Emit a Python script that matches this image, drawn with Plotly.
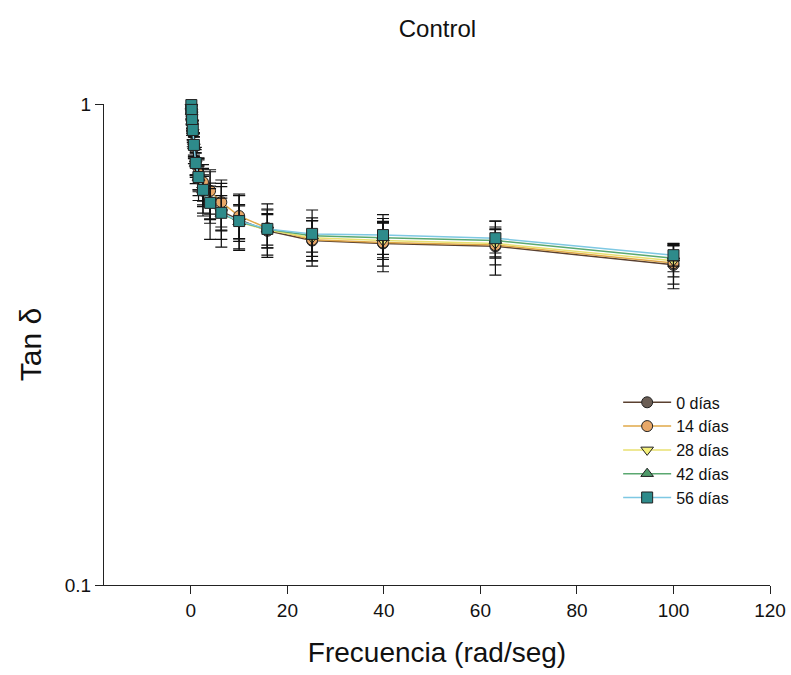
import plotly.graph_objects as go

freq = [0.1, 0.158, 0.251, 0.398, 0.631, 1.0, 1.585, 2.512, 3.981, 6.31, 10.0, 15.85, 25.12, 39.81, 63.1, 100.0]

d0 = [0.98, 0.955, 0.91, 0.87, 0.812, 0.748, 0.700, 0.660, 0.625, 0.598, 0.575, 0.545, 0.520, 0.513, 0.506, 0.463]
d14 = [0.99, 0.962, 0.92, 0.876, 0.820, 0.762, 0.718, 0.688, 0.660, 0.625, 0.585, 0.552, 0.522, 0.515, 0.509, 0.467]
d28 = [0.985, 0.960, 0.915, 0.873, 0.815, 0.750, 0.702, 0.662, 0.625, 0.595, 0.568, 0.547, 0.527, 0.520, 0.513, 0.472]
d42 = [0.99, 0.965, 0.92, 0.878, 0.818, 0.752, 0.703, 0.662, 0.622, 0.592, 0.569, 0.549, 0.532, 0.527, 0.520, 0.478]
d56 = [0.995, 0.972, 0.926, 0.883, 0.822, 0.754, 0.705, 0.663, 0.623, 0.594, 0.571, 0.550, 0.537, 0.534, 0.526, 0.485]

e0 = [0.05, 0.05, 0.05, 0.055, 0.06, 0.065, 0.07, 0.075, 0.06, 0.075, 0.075, 0.06, 0.06, 0.065, 0.065, 0.05]
e14 = [0.04, 0.04, 0.045, 0.045, 0.05, 0.05, 0.055, 0.06, 0.07, 0.07, 0.06, 0.05, 0.05, 0.055, 0.046, 0.045]
e28 = [0.03, 0.03, 0.035, 0.035, 0.04, 0.04, 0.045, 0.05, 0.05, 0.05, 0.05, 0.045, 0.045, 0.045, 0.035, 0.035]
e42 = [0.03, 0.03, 0.03, 0.035, 0.035, 0.04, 0.04, 0.045, 0.045, 0.045, 0.045, 0.04, 0.04, 0.04, 0.03, 0.03]
e56 = [0.03, 0.03, 0.035, 0.04, 0.045, 0.05, 0.06, 0.07, 0.1, 0.09, 0.075, 0.07, 0.065, 0.055, 0.045, 0.025]

names = ["0 días", "14 días", "28 días", "42 días", "56 días"]
series = [d0, d14, d28, d42, d56]
errors = [e0, e14, e28, e42, e56]
symbols = ["circle", "circle", "triangle-down", "triangle-up", "square"]
fills = ["#6b5e55", "#e8a868", "#f5f07a", "#4e9a6a", "#2e8b8b"]
lines = ["#5a4030", "#e0a848", "#e8e070", "#5aa870", "#7ec8e3"]

fig = go.Figure()
for n, y, e, s, f, lc in zip(names, series, errors, symbols, fills, lines):
    fig.add_trace(go.Scatter(
        x=freq, y=y, name=n, mode="lines+markers",
        line=dict(color=lc, width=1.5),
        marker=dict(symbol=s, size=11, color=f, line=dict(color="#222", width=1)),
        error_y=dict(type="data", array=e, visible=True, color="#111", thickness=1.2, width=6),
        cliponaxis=False,
    ))

font = "Arial, Liberation Sans, sans-serif"
fig.update_layout(
    width=791, height=675,
    margin=dict(l=104, r=21, t=104, b=90),
    paper_bgcolor="white", plot_bgcolor="white",
    font=dict(family=font, color="#111"),
    title=dict(text="Control", x=0.553, xanchor="center", y=0.958, yanchor="middle",
               font=dict(size=24, family=font)),
    xaxis=dict(range=[-18, 120], tickvals=[0, 20, 40, 60, 80, 100, 120], automargin=False,
               showgrid=False, zeroline=False, showline=True, linecolor="#222", linewidth=1.2,
               ticks="outside", ticklen=8, tickcolor="#222", tickfont=dict(size=19),
               title=dict(text="Frecuencia (rad/seg)", font=dict(size=28), standoff=22)),
    yaxis=dict(type="log", range=[-1, 0], tickvals=[0.1, 1], ticktext=["0.1", "1"], automargin=False,
               showgrid=False, zeroline=False, showline=True, linecolor="#222", linewidth=1.2,
               ticks="outside", ticklen=8, tickcolor="#222", tickfont=dict(size=19),
               title=dict(text="Tan δ", font=dict(size=30), standoff=14)),
    legend=dict(x=0.772, y=0.415, xanchor="left", yanchor="top", bgcolor="rgba(0,0,0,0)",
                font=dict(size=16), tracegroupgap=0, itemwidth=48),
)

fig.write_html("out.html")
